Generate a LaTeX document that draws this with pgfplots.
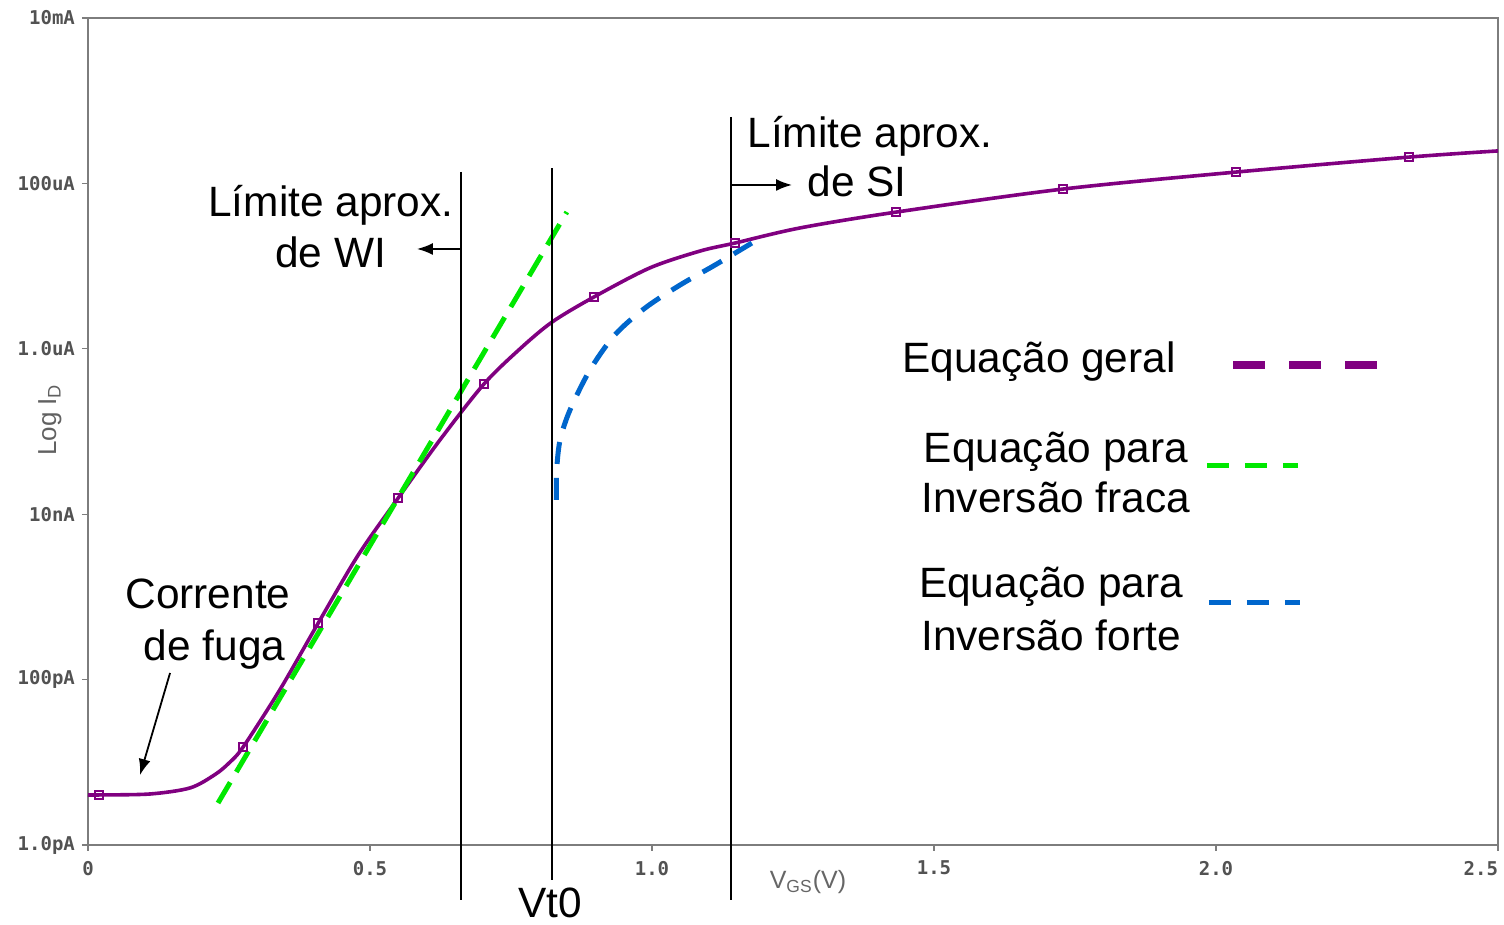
\documentclass[border=0pt]{standalone}
\usepackage{fontspec}
\setmainfont{Liberation Sans}
\newfontfamily\tickfont{DejaVu Sans Mono}
\usepackage{pgfplots}
\pgfplotsset{compat=1.18}
\usetikzlibrary{arrows.meta}
\definecolor{curvepurple}{RGB}{128,0,128}
\definecolor{wigreen}{RGB}{0,232,0}
\definecolor{siblue}{RGB}{0,102,204}
\definecolor{axgray}{RGB}{125,125,125}
\newcommand{\annot}{\fontsize{21.2}{26}\selectfont}

\begin{document}
\begin{tikzpicture}
\begin{axis}[
  name=ax, scale only axis, width=705pt, height=413.5pt,
  xmin=0, xmax=2.5, ymode=log, ymin=1e-12, ymax=1e-2,
  xtick={0,0.5,1,1.5,2,2.5},
  xticklabels={0,0.5,1.0,1.5,2.0,\makebox[0pt][r]{2.5}},
  ytick={1e-12,1e-10,1e-8,1e-6,1e-4,1e-2},
  yticklabels={1.0pA,100pA,10nA,1.0uA,100uA,10mA},
  minor ytick={}, yminorticks=false,
  tick align=outside, xtick pos=bottom, ytick pos=left, major tick length=3pt,
  axis line style={axgray, line width=0.8pt},
  tick style={axgray, line width=0.6pt},
  tick label style={font=\tickfont\bfseries\fontsize{9.5}{10}\selectfont, text=black!68},
  xticklabel style={yshift=-1.5pt},
  clip=false,
]
% curva geral
\addplot[curvepurple, line width=1.8pt, smooth, tension=0.5] coordinates {
  (0.0,4.02e-12) (0.0195,4.03e-12) (0.110,4.14e-12) (0.181,4.9e-12)
  (0.225,7.1e-12) (0.25,9.8e-12) (0.275,1.53e-11) (0.340,7.5e-11)
  (0.408,4.8e-10) (0.479,3.2e-9) (0.550,1.57e-8) (0.624,7.9e-8)
  (0.702,3.75e-7) (0.766,1.0e-6) (0.823,2.11e-6) (0.897,4.23e-6)
  (0.996,9.5e-6) (1.085,1.52e-5) (1.147,1.90e-5) (1.262,2.89e-5)
  (1.433,4.5e-5) (1.729,8.55e-5) (2.035,1.37e-4) (2.342,2.08e-4)
  (2.5,2.47e-4)};
\addplot[only marks, mark=square, mark size=2pt, curvepurple,
  mark options={line width=0.8pt, fill=white}] coordinates {
  (0.0195,4.03e-12) (0.275,1.53e-11) (0.408,4.8e-10) (0.550,1.57e-8)
  (0.702,3.75e-7) (0.897,4.23e-6) (1.147,1.90e-5) (1.433,4.5e-5)
  (1.729,8.55e-5) (2.035,1.37e-4) (2.342,2.08e-4)};
% inversao fraca
\addplot[wigreen, line width=2.5pt, dash pattern=on 12pt off 6pt] coordinates {
  (0.2305,3.22e-12) (0.849,4.51e-5)};
% inversao forte
\addplot[siblue, line width=2.5pt, dash pattern=on 11pt off 7pt, smooth] coordinates {
  (0.8305,1.49e-8) (0.831,3.42e-8) (0.837,7.9e-8) (0.8546,1.82e-7)
  (0.890,5.55e-7) (0.934,1.47e-6) (0.9876,3.11e-6) (1.0496,5.9e-6)
  (1.1117,1.03e-5) (1.177,1.9e-5)};

% limites
\draw[black, line width=0.9pt] (rel axis cs:0.2645,0.8138) -- (rel axis cs:0.2645,-0.0665);
\draw[black, line width=0.9pt] (rel axis cs:0.3291,0.8186) -- (rel axis cs:0.3291,-0.0423);
\draw[black, line width=0.9pt] (rel axis cs:0.4560,0.8803) -- (rel axis cs:0.4560,-0.0665);
\draw[black, line width=0.9pt, -{Latex[length=8pt,width=6pt]}] (rel axis cs:0.2645,0.7207) -- (rel axis cs:0.2333,0.7207);
\draw[black, line width=0.9pt, -{Latex[length=8pt,width=6pt]}] (rel axis cs:0.4560,0.7981) -- (rel axis cs:0.4993,0.7981);
\draw[black, line width=0.9pt, -{Latex[length=8pt,width=6pt]}] (rel axis cs:0.0582,0.2080) -- (rel axis cs:0.0369,0.0846);

% textos
\node[anchor=base, font=\annot] at (rel axis cs:0.1723,0.7594) {Límite aprox.};
\node[anchor=base, font=\annot] at (rel axis cs:0.1720,0.6989) {de WI};
\node[anchor=base, font=\annot] at (rel axis cs:0.5546,0.8440) {Límite aprox.};
\node[anchor=base, font=\annot] at (rel axis cs:0.5454,0.7836) {de SI};
\node[anchor=base, font=\annot] at (rel axis cs:0.0851,0.2854) {Corrente};
\node[anchor=base, font=\annot] at (rel axis cs:0.0897,0.2237) {de fuga};
\node[anchor=base, font=\annot] at (rel axis cs:0.3277,-0.0880) {Vt0};
\node[anchor=base, font=\annot] at (rel axis cs:0.6745,0.5719) {Equação geral};
\node[anchor=base, font=\annot] at (rel axis cs:0.6865,0.4631) {Equação para};
\node[anchor=base, font=\annot] at (rel axis cs:0.6865,0.4015) {Inversão fraca};
\node[anchor=base, font=\annot] at (rel axis cs:0.6830,0.2987) {Equação para};
\node[anchor=base, font=\annot] at (rel axis cs:0.6830,0.2358) {Inversão forte};

% amostras da legenda
\draw[curvepurple, line width=4pt, dash pattern=on 16pt off 12pt] (rel axis cs:0.8121,0.5804) -- (rel axis cs:0.9142,0.5804);
\draw[wigreen, line width=2.5pt, dash pattern=on 11pt off 8pt] (rel axis cs:0.7936,0.4583) -- (rel axis cs:0.8582,0.4583);
\draw[siblue, line width=2.5pt, dash pattern=on 11pt off 8pt] (rel axis cs:0.7950,0.2938) -- (rel axis cs:0.8596,0.2938);

% rotulos dos eixos
\node[font=\fontsize{12.5}{14}\selectfont, text=black!60] at (rel axis cs:0.5106,-0.0447) {V\textsubscript{GS}(V)};
\node[rotate=90, font=\fontsize{13}{14}\selectfont, text=black!62] at ([xshift=-19pt]rel axis cs:0,0.514) {Log I\textsubscript{D}};
\end{axis}
\pgfresetboundingbox
\path ([xshift=-44pt,yshift=-40pt]ax.south west) rectangle ([xshift=3pt,yshift=9pt]ax.north east);
\end{tikzpicture}
\end{document}
